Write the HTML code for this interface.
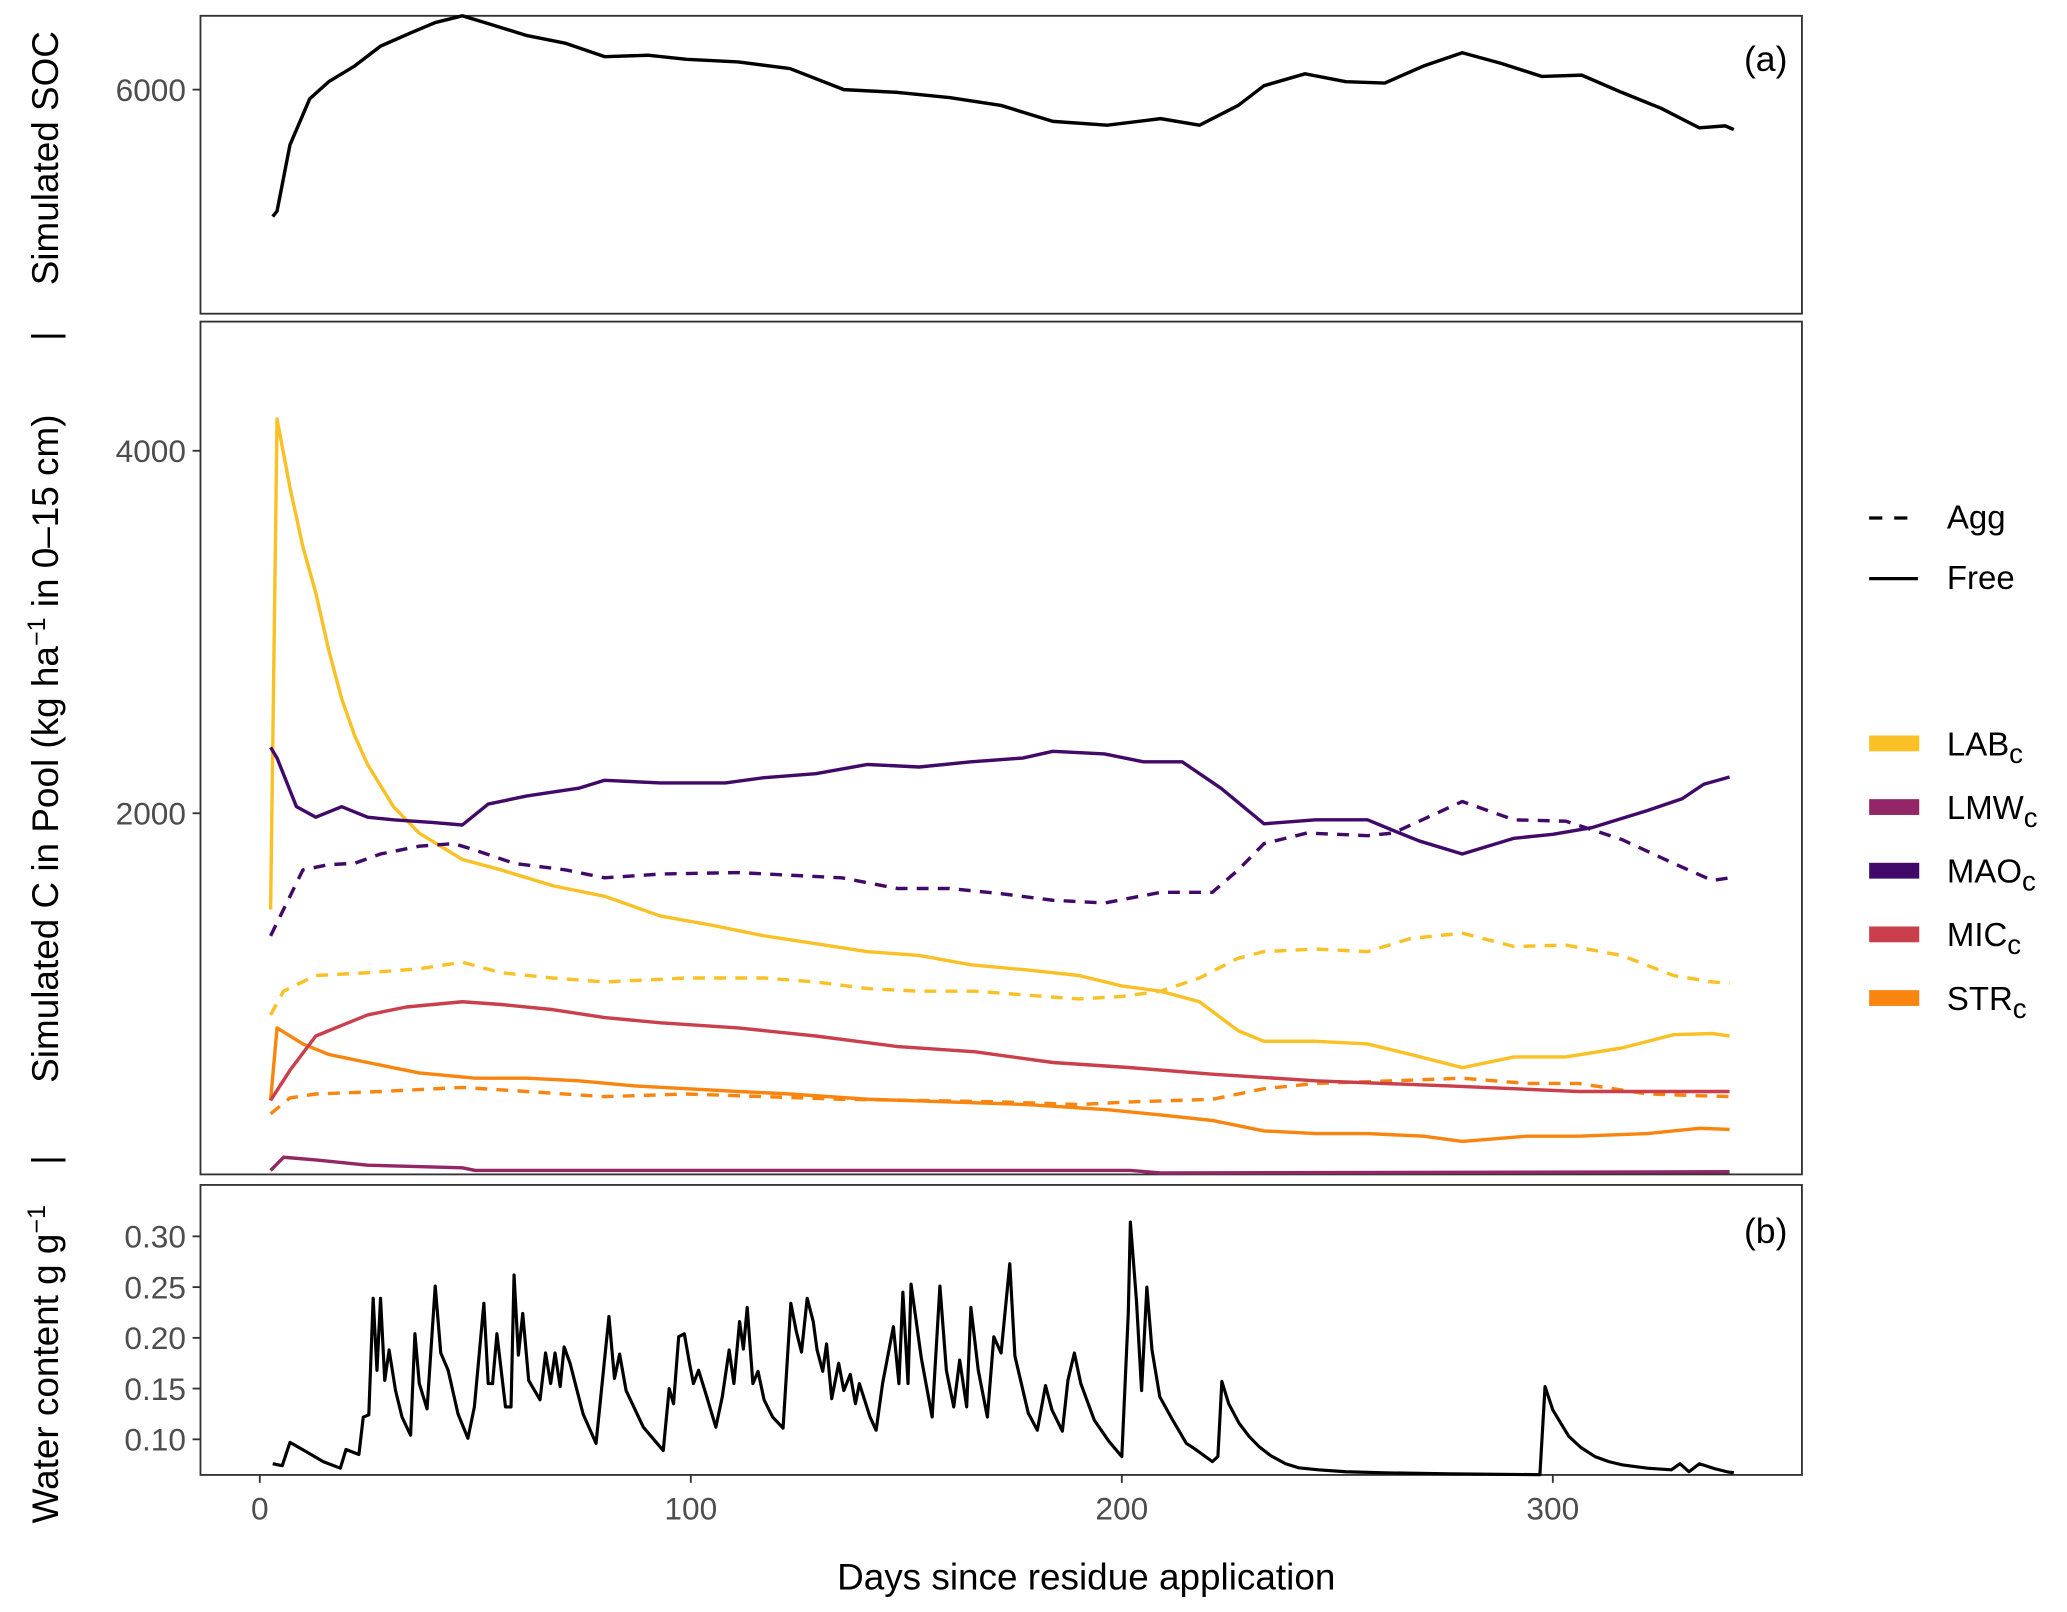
<!DOCTYPE html>
<html><head><meta charset="utf-8"><style>
html,body{margin:0;padding:0;background:#fff}
svg{display:block}
text{font-family:"Liberation Sans",sans-serif}
</style></head><body>
<svg id="chart" width="2067" height="1612" viewBox="0 0 1568 1223" xmlns="http://www.w3.org/2000/svg">
<rect width="1568" height="1223" fill="#fff"/>
<g id="frames">
<rect x="152" y="12" width="1215" height="226" fill="none" stroke="#333" stroke-width="1.4"/>
<rect x="152" y="244" width="1215" height="647" fill="none" stroke="#333" stroke-width="1.4"/>
<rect x="152" y="899" width="1215" height="220" fill="none" stroke="#333" stroke-width="1.4"/>
</g>
<g id="marks"></g>
<g id="axes"></g>
<text x="1356" y="54" font-size="27" text-anchor="end">(a)</text>
<text x="1356" y="943" font-size="27" text-anchor="end">(b)</text>
<text transform="translate(44,120) rotate(-90)" font-size="28" text-anchor="middle">Simulated SOC</text>
<text transform="translate(44,255) rotate(-90)" font-size="28" text-anchor="middle">|</text>
<text transform="translate(44,568) rotate(-90)" font-size="28" text-anchor="middle">Simulated C in Pool (kg ha<tspan dy="-10" font-size="19">−1</tspan><tspan dy="10"> in 0–15 cm)</tspan></text>
<text transform="translate(44,880) rotate(-90)" font-size="28" text-anchor="middle">|</text>
<text transform="translate(44,1035) rotate(-90)" font-size="28" text-anchor="middle">Water content g g<tspan dy="-10" font-size="19">−1</tspan></text>
<text x="824" y="1206" font-size="28" text-anchor="middle">Days since residue application</text>
<g id="legend">
<line x1="1418" y1="393" x2="1455" y2="393" stroke="#000" stroke-width="2.4" stroke-dasharray="10,9"/>
<text x="1477" y="401" font-size="25">Agg</text>
<line x1="1418" y1="439" x2="1455" y2="439" stroke="#000" stroke-width="2.4"/>
<text x="1477" y="447" font-size="25">Free</text>
</g>
</svg>
<script>
const NS='http://www.w3.org/2000/svg';
// ---- data ----
const socDays=[3,4,7,11.6,16,22,28,35,40.7,47,53,62,71,80,90,99,111,123,135.5,148,160,172,184,196.6,209,218,227,233,242.5,252,261,270,279,288,297.5,306.7,316,325,334,340,342];
const socVals=[5300,5330,5695,5950,6044,6130,6240,6313,6370,6407,6364,6298,6255,6182,6190,6167,6153,6116,6000,5985,5956,5913,5825,5804,5840,5804,5913,6022,6087,6044,6036,6130,6204,6145,6073,6080,5985,5898,5789,5800,5780];

const maoFreeDays=[2.5,4,8.5,13,19,25,31,40,47,53,62,74,80,93,108,117,129,141,153,165,177,184,196,205,214,223,233,245,257,263,269,279,291,300,309,322,330,335,341];
const maoFreeVals=[2364,2305,2036,1978,2036,1978,1964,1949,1935,2051,2095,2138,2182,2167,2167,2196,2218,2269,2255,2284,2305,2342,2327,2284,2284,2138,1942,1964,1964,1905,1847,1775,1862,1884,1920,2015,2080,2160,2200];
const maoAggDays=[2.5,5.5,10,16,22,28,37,45,50,59,71,80,93,111,123,135,148,160,172,184,196,209,221,227,233,243,257,263,279,291,303,316,328,337,341];
const maoAggVals=[1324,1469,1687,1716,1724,1775,1818,1833,1796,1724,1687,1644,1665,1673,1658,1644,1585,1585,1556,1520,1505,1564,1564,1687,1833,1891,1876,1891,2065,1964,1956,1855,1724,1629,1644];

const labFreeDays=[2.5,4,7,10,13,16,19,22,25,31,37,47,56,68,80,93,105,117,129,141,153,165,178,190,200,209,218,227,233,245,257,267,279,291,303,316,328,337,341];
const labFreeVals=[1469,4175,3796,3470,3215,2900,2633,2430,2269,2036,1890,1745,1687,1600,1542,1433,1382,1324,1280,1236,1215,1164,1135,1105,1047,1018,960,800,742,742,727,669,596,655,655,705,778,785,771];
const labAggDays=[2.5,5.5,13,25,37,47,56,68,80,99,117,129,141,153,166,178,190,200,209,218,227,233,245,257,267,279,291,303,316,328,337,341];
const labAggVals=[887,1018,1105,1120,1142,1178,1120,1091,1069,1091,1091,1069,1033,1018,1018,996,975,989,1018,1091,1200,1236,1251,1236,1309,1338,1265,1273,1215,1105,1069,1062];

const micFreeDays=[2.5,7,13,19,25,34,47,56,68,80,93,111,129,148,166,184,202,221,245,276,306,341];
const micFreeVals=[415,582,771,829,887,931,960,945,916,873,844,815,771,713,684,625,596,560,524,495,465,465];

const strFreeDays=[2.5,4,10,16,25,37,50,62,74,87,99,111,123,141,160,178,197,209,221,233,245,257,270,279,294,306,322,334,341];
const strFreeVals=[415,815,727,669,625,567,538,538,524,495,480,465,451,422,407,393,364,335,305,247,233,233,218,189,218,218,233,262,255];
const strAggDays=[2.5,7,13,28,47,62,80,99,117,135,153,172,190,202,221,233,245,263,279,294,306,322,341];
const strAggVals=[342,429,451,465,487,465,436,451,436,422,415,407,393,407,422,480,509,524,538,509,509,451,436];

const lmwFreeDays=[2.5,5.5,13,25,47,50,93,202,209,341];
const lmwFreeVals=[29,102,87,58,44,29,29,29,15,22];

const waterDays=[3,5.2,7,10.7,14.7,18.7,20,23,24,25.3,26.3,27.2,28,29,30,31.5,33,35,36,37,38.8,40.7,42,43.7,46,48.3,49.8,52,53,54,55,57,58.3,59,60,61,62.4,65,66.3,67.5,68.5,69.7,70.6,72,75,78,81,82.3,83.5,85,89,93.6,95,96,97.2,98.5,99.7,100.6,101.8,103.7,105.8,107.3,108.9,110,111.3,112.2,113.1,114.4,115.6,117,119,121.4,123.2,124.5,125.7,127,128.4,129.3,130.6,131.5,132.7,134.3,135.5,137,138.2,139.1,141.6,143,144.5,147,148.3,149.2,150.4,151.1,153.5,156,157.8,159.3,161,162.4,164,165,166.7,168.8,170.3,172,174,175.2,176.7,178.3,180.4,182.3,183.8,186.2,187.5,189,190.5,193.6,197,200,201.5,202,203.4,204.6,205.8,207,208.8,211.8,215,216.8,221,222.3,223.2,224.8,227.2,229.5,231.8,234.5,238,241,245.6,252,261,276,297,298.2,300,302,303.7,306.5,309.8,313,316,322,327.5,329.5,331.6,334,337.6,340.4,342];
const waterVals=[0.076,0.074,0.097,0.088,0.078,0.0715,0.090,0.085,0.122,0.124,0.239,0.168,0.239,0.158,0.188,0.148,0.122,0.104,0.204,0.155,0.130,0.251,0.185,0.168,0.125,0.101,0.132,0.234,0.155,0.155,0.204,0.132,0.132,0.262,0.183,0.224,0.158,0.139,0.185,0.155,0.185,0.152,0.191,0.175,0.125,0.096,0.221,0.160,0.184,0.148,0.112,0.089,0.150,0.135,0.201,0.204,0.175,0.155,0.168,0.142,0.112,0.142,0.188,0.155,0.216,0.189,0.230,0.155,0.167,0.139,0.122,0.111,0.234,0.206,0.186,0.239,0.216,0.188,0.167,0.194,0.140,0.175,0.148,0.164,0.135,0.155,0.122,0.109,0.155,0.211,0.155,0.245,0.155,0.253,0.180,0.122,0.251,0.168,0.132,0.178,0.132,0.230,0.168,0.122,0.201,0.185,0.273,0.182,0.155,0.126,0.109,0.153,0.129,0.108,0.158,0.185,0.155,0.119,0.098,0.083,0.224,0.314,0.237,0.148,0.250,0.188,0.142,0.119,0.096,0.091,0.078,0.083,0.157,0.135,0.116,0.103,0.093,0.084,0.076,0.072,0.070,0.068,0.067,0.066,0.0652,0.152,0.129,0.115,0.103,0.092,0.083,0.078,0.075,0.0715,0.070,0.076,0.068,0.076,0.071,0.068,0.067];

const xTicks=[0,100,200,300];
const socTicks=[6000];
const poolTicks=[2000,4000];
const waterTicks=[0.10,0.15,0.20,0.25,0.30];
const waterTickLabels=['0.10','0.15','0.20','0.25','0.30'];

const colLAB='#FAC127',colLMW='#932667',colMAO='#420A68',colMIC='#C93F4B',colSTR='#F8850F';

// ---- scales ----
function xS(d){return 197+d*3.27;}
function ySoc(v){return 68-(v-6000)*0.1375;}
function yPool(v){return 892-v*0.1375;}
function yWater(v){return 938-(v-0.30)*770;}

const marks=document.getElementById('marks');
const axes=document.getElementById('axes');
function pathD(days,vals,ys){return days.map((d,i)=>(i?'L':'M')+xS(d).toFixed(1)+','+ys(vals[i]).toFixed(1)).join('');}
function addLine(name,days,vals,ys,color,dash,w){
  const p=document.createElementNS(NS,'path');
  p.setAttribute('d',pathD(days,vals,ys));
  p.setAttribute('fill','none');
  p.setAttribute('stroke',color);
  p.setAttribute('stroke-width',w||2.6);
  p.setAttribute('stroke-linejoin','round');
  if(dash)p.setAttribute('stroke-dasharray','9,7');
  
  
  marks.appendChild(p);
}
addLine('soc-line',socDays,socVals,ySoc,'#000',false,2.6);
addLine('lmw-free-line',lmwFreeDays,lmwFreeVals,yPool,colLMW,false);
addLine('str-agg-line',strAggDays,strAggVals,yPool,colSTR,true);
addLine('str-free-line',strFreeDays,strFreeVals,yPool,colSTR,false);
addLine('mic-free-line',micFreeDays,micFreeVals,yPool,colMIC,false);
addLine('lab-agg-line',labAggDays,labAggVals,yPool,colLAB,true);
addLine('lab-free-line',labFreeDays,labFreeVals,yPool,colLAB,false);
addLine('mao-agg-line',maoAggDays,maoAggVals,yPool,colMAO,true);
addLine('mao-free-line',maoFreeDays,maoFreeVals,yPool,colMAO,false);
addLine('water-content-line',waterDays,waterVals,yWater,'#000',false,2.4);

function tickY(y,label,name){
  const l=document.createElementNS(NS,'line');
  l.setAttribute('x1',146);l.setAttribute('x2',152);l.setAttribute('y1',y);l.setAttribute('y2',y);
  l.setAttribute('stroke','#333');l.setAttribute('stroke-width',1.4);
  
  
  axes.appendChild(l);
  const t=document.createElementNS(NS,'text');
  t.setAttribute('x',141);t.setAttribute('y',y+8.5);t.setAttribute('text-anchor','end');
  t.setAttribute('font-size',24);t.setAttribute('fill','#4d4d4d');
  t.textContent=label;
  
  
  axes.appendChild(t);
}
socTicks.forEach(v=>tickY(ySoc(v),String(v),'soc-y'));
poolTicks.forEach(v=>tickY(yPool(v),String(v),'pool-y'));
waterTicks.forEach((v,i)=>tickY(yWater(v),waterTickLabels[i],'water-y'));
xTicks.forEach(d=>{
  const x=xS(d);
  const l=document.createElementNS(NS,'line');
  l.setAttribute('x1',x);l.setAttribute('x2',x);l.setAttribute('y1',1119);l.setAttribute('y2',1125);
  l.setAttribute('stroke','#333');l.setAttribute('stroke-width',1.4);
  
  
  axes.appendChild(l);
  const t=document.createElementNS(NS,'text');
  t.setAttribute('x',x);t.setAttribute('y',1153);t.setAttribute('text-anchor','middle');
  t.setAttribute('font-size',24);t.setAttribute('fill','#4d4d4d');
  t.textContent=String(d);
  
  
  axes.appendChild(t);
});

const legNames=['LAB','LMW','MAO','MIC','STR'];
const legCols=[colLAB,colLMW,colMAO,colMIC,colSTR];
const leg=document.getElementById('legend');
legNames.forEach((n,i)=>{
  const y=564+i*48.3;
  const r=document.createElementNS(NS,'rect');
  r.setAttribute('x',1418);r.setAttribute('y',y-6);r.setAttribute('width',38);r.setAttribute('height',12);
  r.setAttribute('fill',legCols[i]);
  
  
  leg.appendChild(r);
  const t=document.createElementNS(NS,'text');
  t.setAttribute('x',1477);t.setAttribute('y',y+9);t.setAttribute('font-size',25);
  t.innerHTML=n+'<tspan dy="6" font-size="21">c</tspan>';
  
  
  leg.appendChild(t);
});
</script>
</body></html>
